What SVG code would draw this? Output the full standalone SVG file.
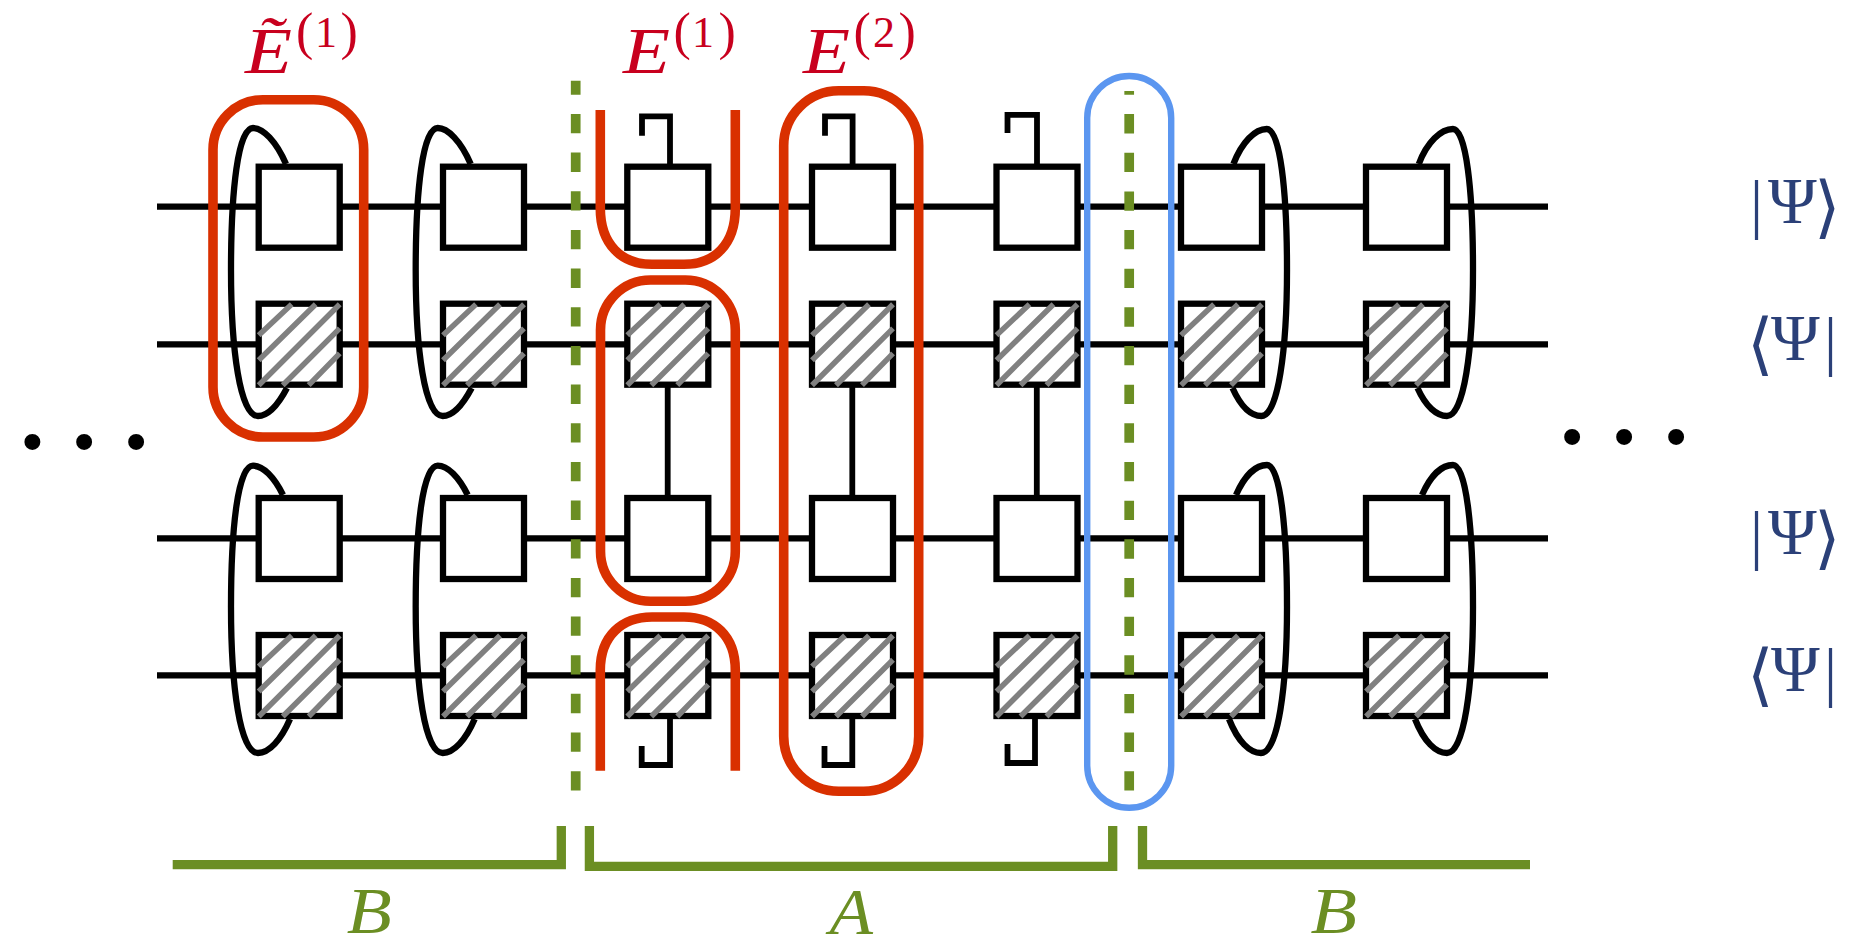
<svg xmlns="http://www.w3.org/2000/svg" xmlns:xlink="http://www.w3.org/1999/xlink" width="1849" height="949" viewBox="0 0 1849 949">
<style>
text{font-family:"Liberation Serif","DejaVu Serif",serif}
.wire{fill:none;stroke:#000;stroke-width:6.300}
.leg{fill:none;stroke:#000;stroke-width:5.800}
.box{fill:#fff;stroke:#000;stroke-width:6.300}
.hatch{fill:none;stroke:#808080;stroke-width:5.500}
.red{fill:none;stroke:#d93000;stroke-width:9.600}
.blue{fill:none;stroke:#5b96f0;stroke-width:6.400}
.cut{fill:none;stroke:#6b8e23;stroke-width:9.700;stroke-dasharray:19.33 19.33}
.brace{fill:none;stroke:#6b8e23;stroke-width:9.300}
.rl{fill:#c8001e;font-style:italic;font-size:65px}
.sup{fill:#c8001e}
.par{font-size:52px}
.dig{font-size:44px}
.gl{fill:#6b8e23;font-style:italic;font-size:65px}
.ket{fill:#2b4078;font-size:66px}
.bar{font-size:65px}
.ang{font-family:"DejaVu Sans",sans-serif;font-weight:200;font-size:68px}
.dots{fill:#000;font-size:135px;text-anchor:middle}
</style>
<defs>
<rect id="plain" class="box" x="0" y="0" width="81" height="81"/>
<g id="shaded">
<rect class="box" x="0" y="0" width="81" height="81"/>
<path class="hatch" d="M0,31.500L33,.5M0,56.500L57,.5M0,81.500L81,.5M24,81.500L81,24.700M50,81.500L81,49.700"/>
</g>
</defs>

<g id="connectors">
<path class="wire" d="M157,206.700H1548M157,344.300H1548M157,538.300H1548M157,675.300H1548"/>
<!-- vertical legs between the two middle rows -->
<path class="leg" d="M667.700,385V498M852.300,385V498M1036.800,385V498"/>
<!-- open hooks above and below columns 3 to 5 -->
<path class="leg" d="M670,166V116.400H642V135.700M852.600,166V116.400H825V135.700M1037,166V114.800H1007.500V133"/>
<path class="leg" d="M670,718V765H641.700V746M852.300,718V765H824.500V746M1035,718V763H1007.500V744"/>
<!-- closed trace loops on the outer columns -->
<path class="wire" d="M286,164C276,141 263,128 253,128C238,128 231,190 231,270C231,350 240,416 258,416C268,416 278,405 287,388"/>
<path class="wire" d="M470.700,164C460.700,141 447.700,128 437.700,128C422.700,128 415.700,190 415.700,270C415.700,350 424.700,416 442.700,416C452.700,416 462.700,405 471.700,388"/>
<path class="wire" d="M283,495C274,477 263,465.700 253,465.700C238,465.700 231,527 231,607C231,687 240,753 258,753C269,753 281,740 290,719"/>
<path class="wire" d="M467.700,495C458.700,477 447.700,465.700 437.700,465.700C422.700,465.700 415.700,527 415.700,607C415.700,687 424.700,753 442.700,753C453.700,753 465.700,740 474.700,719"/>
<path class="wire" d="M1233.400,164C1242,142 1255,129 1266.800,129C1280,129 1287,190 1287,270C1287,350 1278,416 1261.500,416C1251,416 1241,407 1232.500,388"/>
<path class="wire" d="M1418.800,164C1427,142 1441,129 1453,129C1466,129 1473,190 1473,270C1473,350 1464,416 1447,416C1437,416 1426,407 1417.500,388"/>
<path class="wire" d="M1236,495C1244,477 1255,465 1267,465C1280,465 1287,527 1287,607C1287,687 1278,753 1261,753C1250,753 1238,742 1229,719"/>
<path class="wire" d="M1422,495C1430,477 1441,465 1453,465C1466,465 1473,527 1473,607C1473,687 1464,753 1447,753C1436,753 1424,742 1415,719"/>
</g>

<g id="col1">
<use xlink:href="#plain" x="258.700" y="166.700"/><use xlink:href="#shaded" x="258.700" y="303.700"/>
<use xlink:href="#plain" x="258.700" y="498"/><use xlink:href="#shaded" x="258.700" y="635"/>
</g>
<g id="col2">
<use xlink:href="#plain" x="443" y="166.700"/><use xlink:href="#shaded" x="443" y="303.700"/>
<use xlink:href="#plain" x="443" y="498"/><use xlink:href="#shaded" x="443" y="635"/>
</g>
<g id="col3">
<use xlink:href="#plain" x="627.300" y="166.700"/><use xlink:href="#shaded" x="627.300" y="303.700"/>
<use xlink:href="#plain" x="627.300" y="498"/><use xlink:href="#shaded" x="627.300" y="635"/>
</g>
<g id="col4">
<use xlink:href="#plain" x="812" y="166.700"/><use xlink:href="#shaded" x="812" y="303.700"/>
<use xlink:href="#plain" x="812" y="498"/><use xlink:href="#shaded" x="812" y="635"/>
</g>
<g id="col5">
<use xlink:href="#plain" x="996.500" y="166.700"/><use xlink:href="#shaded" x="996.500" y="303.700"/>
<use xlink:href="#plain" x="996.500" y="498"/><use xlink:href="#shaded" x="996.500" y="635"/>
</g>
<g id="col6">
<use xlink:href="#plain" x="1181" y="166.700"/><use xlink:href="#shaded" x="1181" y="303.700"/>
<use xlink:href="#plain" x="1181" y="498"/><use xlink:href="#shaded" x="1181" y="635"/>
</g>
<g id="col7">
<use xlink:href="#plain" x="1366" y="166.700"/><use xlink:href="#shaded" x="1366" y="303.700"/>
<use xlink:href="#plain" x="1366" y="498"/><use xlink:href="#shaded" x="1366" y="635"/>
</g>

<g id="cuts">
<line class="cut" x1="575.700" y1="80.700" x2="575.700" y2="791.700" stroke-dashoffset="5.400"/>
<line class="cut" x1="1129.200" y1="91" x2="1129.200" y2="791.700" stroke-dashoffset="15.600"/>
</g>

<g id="env-tilde-1"><rect class="red" x="213" y="99.700" width="150.700" height="337.300" rx="50" ry="50"/></g>
<g id="env-1-top"><path class="red" d="M600.300,110V208C600.300,245 622,264.300 652,264.300H684C714,264.300 735.300,245 735.300,208V110"/></g>
<g id="env-1-mid"><rect class="red" x="600.500" y="280" width="134.800" height="321.300" rx="50" ry="50"/></g>
<g id="env-1-bot"><path class="red" d="M600.300,770.700V670C600.300,636 622,617 652,617H684C714,617 735.300,636 735.300,670V770.700"/></g>
<g id="env-2"><rect class="red" x="783.700" y="90.800" width="135" height="700.500" rx="55" ry="55"/></g>
<g id="slice"><rect class="blue" x="1087.200" y="76" width="84" height="731.800" rx="42" ry="42"/></g>

<g id="brackets">
<path class="brace" d="M172.700,864.700H561.300V826"/>
<path class="brace" d="M589.400,826V866.300H1112.700V826"/>
<path class="brace" d="M1142.500,826V864.700H1530"/>
</g>

<g id="labels">
<text class="rl" x="245" y="72.700" textLength="47" lengthAdjust="spacingAndGlyphs">Ẽ</text>
<text class="sup"><tspan class="par" x="296" y="49">(</tspan><tspan class="dig" x="315" y="46.700">1</tspan><tspan class="par" x="340.500" y="49">)</tspan></text>
<text class="rl" x="623" y="72.700" textLength="47" lengthAdjust="spacingAndGlyphs">E</text>
<text class="sup"><tspan class="par" x="673.500" y="49">(</tspan><tspan class="dig" x="692" y="46.700">1</tspan><tspan class="par" x="718.500" y="49">)</tspan></text>
<text class="rl" x="803" y="72.700" textLength="47" lengthAdjust="spacingAndGlyphs">E</text>
<text class="sup"><tspan class="par" x="853.500" y="49">(</tspan><tspan class="dig" x="873" y="46.700">2</tspan><tspan class="par" x="898.500" y="49">)</tspan></text>
<text class="gl" x="346.700" y="932.700" textLength="45" lengthAdjust="spacingAndGlyphs">B</text>
<text class="gl" x="829.500" y="934" textLength="43.500" lengthAdjust="spacingAndGlyphs">A</text>
<text class="gl" x="1310.500" y="932.700" textLength="46.500" lengthAdjust="spacingAndGlyphs">B</text>
<text class="ket"><tspan class="bar" x="1750" y="226">|</tspan><tspan x="1768" y="223">Ψ</tspan><tspan class="ang" x="1813.500" y="230">⟩</tspan></text>
<text class="ket"><tspan class="ang" x="1747" y="367">⟨</tspan><tspan x="1771" y="360">Ψ</tspan><tspan class="bar" x="1824" y="363">|</tspan></text>
<text class="ket"><tspan class="bar" x="1750" y="557">|</tspan><tspan x="1768" y="554">Ψ</tspan><tspan class="ang" x="1813.500" y="561">⟩</tspan></text>
<text class="ket"><tspan class="ang" x="1747" y="698">⟨</tspan><tspan x="1771" y="691">Ψ</tspan><tspan class="bar" x="1824" y="694">|</tspan></text>
<text class="dots" x="32.300 84 136" y="447.600">...</text>
<text class="dots" x="1572 1624 1676" y="443">...</text>
</g>
</svg>
